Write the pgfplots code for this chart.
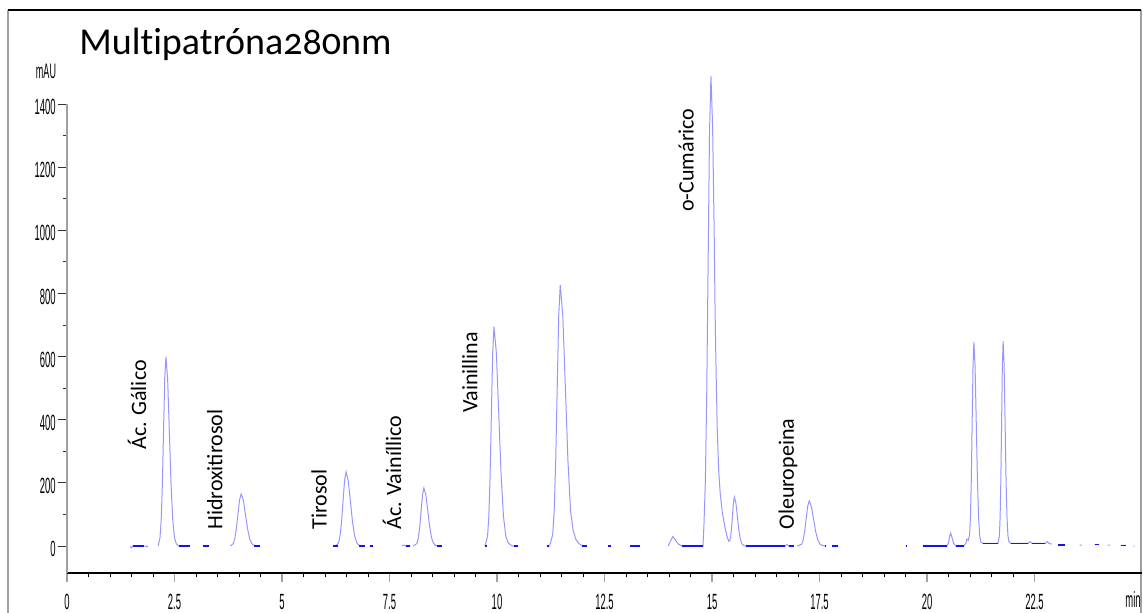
\documentclass[border=0pt]{standalone}
\usepackage{fontspec}
\setmainfont{Carlito}
\newfontfamily\labelfont{Carlito}
\newfontfamily\titlefont[Numbers=OldStyle, Ligatures=NoCommon]{Carlito}
\newfontfamily\narrowfont[FakeStretch=0.43]{Liberation Sans}
\usepackage{pgfplots}
\pgfplotsset{compat=1.18}
\definecolor{tracecol}{RGB}{150,150,255}
\definecolor{basecol}{RGB}{20,20,235}
\definecolor{framegray}{RGB}{160,160,160}

\begin{document}
\begin{tikzpicture}[x=1pt,y=1pt,
  peak/.style={rotate=90, anchor=west, inner sep=0pt, font=\labelfont\fontsize{11}{13}\selectfont}]
\useasboundingbox (0,0) rectangle (571.5,306.5);
% outer frame of the report page
\draw[framegray, line width=0.6pt] (4,0) -- (4,301.5);
\draw[framegray, line width=0.6pt] (570.5,301.5) -- (570.5,0);
\draw[black, line width=0.6pt] (4,301.5) -- (570.5,301.5);
\node[anchor=base west, inner sep=0pt, font=\titlefont\fontsize{19}{21}\selectfont] at (39.5,279) {Multipatróna280nm};
\node[inner sep=0pt, font=\narrowfont\fontsize{10.5}{12}\selectfont] at (23,271) {mAU};
\node[inner sep=0pt, font=\narrowfont\fontsize{11}{12}\selectfont] at (566.5,6.5) {min};

\begin{axis}[
  at={(33.5pt,20pt)}, anchor=south west,
  scale only axis, width=537.5pt, height=234.4pt,
  xmin=0, xmax=25, ymin=-85.5, ymax=1400,
  clip=false,
  axis x line=bottom, axis y line=left,
  axis line style={-},
  x axis line style={black, line width=0.6pt},
  y axis line style={framegray, line width=0.6pt},
  tick align=outside,
  major tick length=4.5pt, minor tick length=2.2pt,
  xtick={0,2.5,5,7.5,10,12.5,15,17.5,20,22.5},
  xticklabels={0,2.5,5,7.5,10,12.5,15,17.5,20,22.5},
  minor x tick num=4,
  ytick={0,200,400,600,800,1000,1200,1400},
  yticklabels={0,200,400,600,800,1000,1200,1400},
  minor y tick num=1,
  x tick style={framegray, line width=0.7pt},
  minor x tick style={black, line width=0.5pt},
  y tick style={black!80, line width=0.5pt},
  /pgf/number format/assume math mode=true,
  tick label style={font=\narrowfont\fontsize{11}{12}\selectfont, inner sep=0pt},
  xticklabel style={anchor=north, yshift=-6pt},
  yticklabel style={anchor=east, xshift=-1pt, yshift=-1.5pt},
  unbounded coords=jump,
]
% detector trace (mAU vs. retention time in min)
\addplot[tracecol, line width=0.5pt] coordinates {
 (1.47,-2) (1.50,-6) (1.53,0) (1.56,1) (1.62,1) (1.68,0) (1.72,2) (1.76,0) (1.84,0) (1.86,-3) (1.88,0)
 (1.95,nan)
 (2.12,0) (2.1625,26) (2.19,81) (2.2175,195) (2.245,364) (2.2725,530) (2.30,600)
 (2.34,530) (2.38,364) (2.42,195) (2.46,81) (2.50,26) (2.54,8) (2.58,2) (2.62,0) (2.86,0)
 (3.00,nan)
 (3.17,0) (3.31,0)
 (3.50,nan)
 (3.80,0) (3.8625,7) (3.90,22) (3.9375,54) (3.975,100) (4.0125,146) (4.05,165)
 (4.10,146) (4.15,100) (4.20,54) (4.25,22) (4.30,7) (4.35,2) (4.40,0) (4.49,0)
 (5.00,nan)
 (6.19,0) (6.25,0) (6.315,10) (6.35,32) (6.385,76) (6.42,143) (6.455,207) (6.49,235)
 (6.54,207) (6.59,143) (6.64,76) (6.69,32) (6.74,10) (6.79,3) (6.84,0) (6.93,0)
 (7.00,nan)
 (7.04,0) (7.11,0)
 (7.40,nan)
 (7.79,0) (7.84,3) (7.88,0) (7.98,0)
 (8.00,nan)
 (8.05,0) (8.1375,8) (8.17,25) (8.2025,60) (8.235,112) (8.2675,162) (8.30,184)
 (8.345,162) (8.39,112) (8.435,60) (8.48,25) (8.525,8) (8.57,2) (8.62,0) (8.72,0)
 (9.00,nan)
 (9.72,0) (9.78,31) (9.81,94) (9.84,226) (9.87,422) (9.90,613) (9.93,695)
 (9.985,613) (10.04,422) (10.095,226) (10.15,94) (10.205,31) (10.26,10) (10.32,3) (10.38,0) (10.49,0)
 (10.80,nan)
 (11.16,0) (11.225,0) (11.295,36) (11.33,112) (11.365,269) (11.40,502) (11.435,730) (11.47,827)
 (11.53,730) (11.59,502) (11.65,269) (11.71,112) (11.77,50) (11.83,22) (11.90,8) (11.97,2) (12.09,0)
 (12.30,nan)
 (12.58,0) (12.65,0)
 (12.90,nan)
 (13.09,0) (13.33,0)
 (13.60,nan)
 (13.98,0) (14.03,15) (14.09,30) (14.15,18) (14.22,6) (14.30,0) (14.79,0)
 (14.8125,65) (14.845,202) (14.8775,484) (14.91,904) (14.9425,1315) (14.975,1490)
 (15.014,1330) (15.05,1000) (15.07,760) (15.09,590) (15.12,380) (15.155,240) (15.19,168)
 (15.24,105) (15.30,60) (15.35,30) (15.39,15) (15.41,16) (15.43,26) (15.4525,52) (15.475,95)
 (15.4975,137) (15.52,155) (15.555,137) (15.59,94) (15.625,50) (15.66,21) (15.695,7) (15.73,2)
 (15.78,0) (16.70,0) (16.74,5) (16.78,0) (16.90,0)
 (16.95,nan)
 (16.98,0) (17.085,6) (17.12,19) (17.155,46) (17.19,87) (17.225,126) (17.26,143)
 (17.31,126) (17.36,87) (17.41,46) (17.46,19) (17.51,6) (17.56,2) (17.62,0) (17.66,0)
 (17.70,nan)
 (17.80,0) (17.93,0)
 (18.50,nan)
 (19.50,0) (19.53,0)
 (19.70,nan)
 (19.90,0) (20.46,0) (20.50,10) (20.53,32) (20.55,41) (20.58,28) (20.62,8) (20.67,0) (20.85,0)
 (20.90,8) (20.93,22) (20.96,18) (20.99,35) (21.01,90) (21.03,210) (21.05,392) (21.07,571) (21.09,647)
 (21.1175,571) (21.145,392) (21.1725,210) (21.20,88) (21.2275,30) (21.255,12) (21.30,8) (21.65,8)
 (21.6825,32) (21.70,90) (21.7175,212) (21.735,396) (21.7525,575) (21.77,649)
 (21.7925,575) (21.815,396) (21.8375,212) (21.86,90) (21.8825,32) (21.905,14) (21.95,8)
 (22.35,8) (22.40,14) (22.44,8) (22.75,8) (22.80,14) (22.84,8) (22.90,6)
 (23.00,nan)
 (23.05,3) (23.20,3)
 (23.40,nan)
 (23.55,3) (23.60,3)
 (23.80,nan)
 (23.90,4) (24.00,4)
 (24.10,nan)
 (24.20,3) (24.25,3)
 (24.40,nan)
 (24.50,2) (24.62,2)
 (24.70,nan)
 (24.80,0) (24.83,0)
};
% flat stretches of the baseline
\addplot[basecol, line width=0.6pt] coordinates {
 (1.53,0) (1.80,0) (1.9,nan)
 (2.60,0) (2.86,0) (3.0,nan)
 (3.17,0) (3.31,0) (3.5,nan)
 (4.36,0) (4.49,0) (5.0,nan)
 (6.19,0) (6.30,0) (6.35,nan)
 (6.80,0) (6.93,0) (7.0,nan)
 (7.04,0) (7.11,0) (7.5,nan)
 (7.88,0) (7.98,0) (8.0,nan)
 (8.60,0) (8.72,0) (9.0,nan)
 (9.72,0) (9.76,0) (9.8,nan)
 (10.40,0) (10.49,0) (10.8,nan)
 (11.16,0) (11.22,0) (11.3,nan)
 (11.98,0) (12.09,0) (12.3,nan)
 (12.58,0) (12.65,0) (12.9,nan)
 (13.09,0) (13.33,0) (13.6,nan)
 (14.30,0) (14.79,0) (14.8,nan)
 (15.80,0) (16.70,0) (16.72,nan)
 (16.78,0) (16.90,0) (16.95,nan)
 (17.62,0) (17.66,0) (17.7,nan)
 (17.80,0) (17.93,0) (18.5,nan)
 (19.50,0) (19.53,0) (19.7,nan)
 (19.90,0) (20.46,0) (20.5,nan)
 (20.67,0) (20.85,0) (20.9,nan)
 (21.30,8) (21.65,8) (21.7,nan)
 (21.95,8) (22.35,8) (22.4,nan)
 (22.44,8) (22.75,8) (22.8,nan)
 (23.05,3) (23.20,3) (23.4,nan)
 (23.90,4) (24.00,4) (24.1,nan)
 (24.50,2) (24.62,2)
};
% compound names above their peaks
\node[peak] at (axis cs:1.628,304) {Ác. Gálico};
\node[peak] at (axis cs:3.44,51) {Hidroxitirosol};
\node[peak] at (axis cs:5.86,51) {Tirosol};
\node[peak] at (axis cs:7.56,51) {Ác. Vainíllico};
\node[peak] at (axis cs:9.37,421) {Vainillina};
\node[peak] at (axis cs:14.40,1058) {o-Cumárico};
\node[peak] at (axis cs:16.77,51) {Oleuropeina};
\end{axis}
\end{tikzpicture}
\end{document}
